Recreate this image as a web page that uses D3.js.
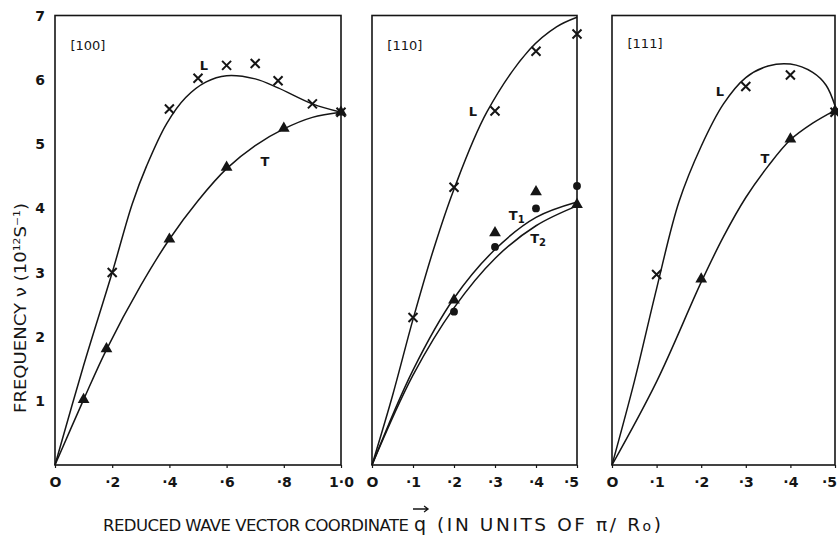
<!DOCTYPE html>
<html>
<head>
<meta charset="utf-8">
<script src="https://cdn.jsdelivr.net/npm/d3@7"></script>
<style>
  body { margin: 0; background: #fff; }
  svg { display: block; }
  text { font-family: "DejaVu Sans", sans-serif; fill: #151515; }
</style>
</head>
<body>
<svg id="chart" width="838" height="542"></svg>
<script>
// ---- Frequency axis (shared by all three panels), units 10^12 s^-1
const freqTicks = [1, 2, 3, 4, 5, 6, 7];
const freqTickLabels = ["1", "2", "3", "4", "5", "6", "7"];

// ---- [100] direction, q from 0 to 1.0
const ticks100 = [0, 0.2, 0.4, 0.6, 0.8, 1.0];
const tickLabels100 = ["O", "·2", "·4", "·6", "·8", "1·0"];
const lineL100Q = [0, 0.1, 0.2, 0.27, 0.32, 0.39, 0.457, 0.527, 0.6, 0.7, 0.78, 0.9, 1.0];
const lineL100V = [0, 1.55, 3.0, 4.07, 4.66, 5.32, 5.73, 5.97, 6.07, 6.02, 5.88, 5.63, 5.5];
const lineT100Q = [0, 0.1, 0.18, 0.3, 0.4, 0.5, 0.6, 0.7, 0.8, 0.9, 1.0];
const lineT100V = [0, 1.02, 1.8, 2.8, 3.52, 4.12, 4.62, 4.98, 5.24, 5.42, 5.5];
const obsL100Q = [0.2, 0.4, 0.5, 0.6, 0.7, 0.78, 0.9, 1.0];
const obsL100V = [3.0, 5.55, 6.03, 6.23, 6.26, 5.99, 5.63, 5.5];
const obsT100Q = [0.1, 0.18, 0.4, 0.6, 0.8, 1.0];
const obsT100V = [1.02, 1.81, 3.52, 4.64, 5.25, 5.5];

// ---- [110] direction, q from 0 to 0.5
const ticks110 = [0, 0.1, 0.2, 0.3, 0.4, 0.5];
const tickLabels110 = ["O", "·1", "·2", "·3", "·4", "·5"];
const lineL110Q = [0, 0.05, 0.1, 0.15, 0.2, 0.28, 0.385, 0.45, 0.5];
const lineL110V = [0, 1.08, 2.27, 3.36, 4.3, 5.5, 6.48, 6.83, 6.98];
const lineT1110Q = [0, 0.1, 0.2, 0.3, 0.4, 0.5];
const lineT1110V = [0, 1.48, 2.6, 3.36, 3.86, 4.1];
const lineT2110Q = [0, 0.1, 0.2, 0.3, 0.4, 0.5];
const lineT2110V = [0, 1.4, 2.45, 3.22, 3.73, 4.04];
const obsL110Q = [0.1, 0.2, 0.3, 0.4, 0.5];
const obsL110V = [2.3, 4.33, 5.52, 6.45, 6.72];
const obsT1110Q = [0.2, 0.3, 0.4, 0.5];
const obsT1110V = [2.57, 3.62, 4.26, 4.06];
const obsT2110Q = [0.2, 0.3, 0.4, 0.5];
const obsT2110V = [2.39, 3.4, 4.0, 4.35];

// ---- [111] direction, q from 0 to 0.5
const ticks111 = [0, 0.1, 0.2, 0.3, 0.4, 0.5];
const tickLabels111 = ["O", "·1", "·2", "·3", "·4", "·5"];
const lineL111Q = [0, 0.05, 0.1, 0.15, 0.2, 0.25, 0.3, 0.35, 0.4, 0.45, 0.48, 0.5];
const lineL111V = [0, 1.3, 2.75, 4.1, 4.97, 5.63, 6.04, 6.22, 6.25, 6.12, 5.92, 5.6];
const lineT111Q = [0, 0.1, 0.2, 0.25, 0.3, 0.35, 0.4, 0.45, 0.5];
const lineT111V = [0, 1.3, 2.85, 3.56, 4.17, 4.66, 5.07, 5.33, 5.53];
const obsL111Q = [0.1, 0.3, 0.4, 0.5];
const obsL111V = [2.97, 5.9, 6.08, 5.5];
const obsT111Q = [0.2, 0.4, 0.5];
const obsT111V = [2.9, 5.08, 5.52];

const zip = (qs, vs) => qs.map((q, i) => ({ q, v: vs[i] }));

const panels = [
  {
    title: "[100]", titleAt: [0.115, 6.52], left: 55, right: 341, domain: [0, 1],
    ticks: ticks100, tickLabels: tickLabels100, lastShift: 0,
    lines: [zip(lineL100Q, lineL100V), zip(lineT100Q, lineT100V)],
    marks: [
      { data: zip(obsL100Q, obsL100V), shape: "cross" },
      { data: zip(obsT100Q, obsT100V), shape: "triangle" }
    ],
    names: [{ t: "L", at: [0.521, 6.22] }, { t: "T", at: [0.734, 4.72] }]
  },
  {
    title: "[110]", titleAt: [0.08, 6.52], left: 372, right: 577, domain: [0, 0.5],
    ticks: ticks110, tickLabels: tickLabels110, lastShift: -6,
    lines: [zip(lineL110Q, lineL110V), zip(lineT1110Q, lineT1110V), zip(lineT2110Q, lineT2110V)],
    marks: [
      { data: zip(obsL110Q, obsL110V), shape: "cross" },
      { data: zip(obsT1110Q, obsT1110V), shape: "triangle" },
      { data: zip(obsT2110Q, obsT2110V), shape: "dot" }
    ],
    names: [{ t: "L", at: [0.246, 5.5] }, { t: "T", sub: "1", at: [0.353, 3.87] }, { t: "T", sub: "2", at: [0.405, 3.51] }]
  },
  {
    title: "[111]", titleAt: [0.074, 6.55], left: 612, right: 835, domain: [0, 0.5],
    ticks: ticks111, tickLabels: tickLabels111, lastShift: -6,
    lines: [zip(lineL111Q, lineL111V), zip(lineT111Q, lineT111V)],
    marks: [
      { data: zip(obsL111Q, obsL111V), shape: "cross" },
      { data: zip(obsT111Q, obsT111V), shape: "triangle" }
    ],
    names: [{ t: "L", at: [0.242, 5.8] }, { t: "T", at: [0.343, 4.76] }]
  }
];

const svg = d3.select("#chart");
const frameTop = 15.5, frameBottom = 465;
const y = d3.scaleLinear().domain([0, 7]).range([frameBottom, 16]);

const crossPath = "M-4.5,-4.5L4.5,4.5M-4.5,4.5L4.5,-4.5";
const triPath = d3.symbol(d3.symbolTriangle, 60)();

panels.forEach((p, pi) => {
  const x = d3.scaleLinear().domain(p.domain).range([p.left, p.right]);
  const g = svg.append("g");

  // frame
  g.append("rect")
    .attr("x", p.left).attr("y", frameTop)
    .attr("width", p.right - p.left).attr("height", frameBottom - frameTop)
    .attr("fill", "none").attr("stroke", "#151515").attr("stroke-width", 1.6);

  // q axis ticks and labels
  const xAxis = d3.axisBottom(x).tickValues(p.ticks)
    .tickFormat((d, i) => p.tickLabels[i]).tickSize(3).tickPadding(9);
  const ax = g.append("g").attr("transform", `translate(0,${frameBottom})`).call(xAxis);
  ax.select(".domain").remove();
  ax.selectAll(".tick line").attr("stroke", "#151515").attr("stroke-width", 1.2);
  ax.selectAll(".tick text").attr("font-size", 14).attr("font-weight", "bold")
    .attr("fill", "#151515").attr("font-family", "DejaVu Sans, sans-serif")
    .attr("dx", (d, i, n) => (i === n.length - 1 ? p.lastShift : 0));

  // frequency labels on the first panel only
  if (pi === 0) {
    const yAxis = d3.axisLeft(y).tickValues(freqTicks)
      .tickFormat((d, i) => freqTickLabels[i]).tickSize(0).tickPadding(11);
    const ay = g.append("g").attr("transform", `translate(${p.left},0)`).call(yAxis);
    ay.select(".domain").remove();
    ay.selectAll(".tick text").attr("font-size", 14).attr("font-weight", "bold")
      .attr("text-anchor", "middle").attr("x", -15).attr("fill", "#151515")
      .attr("font-family", "DejaVu Sans, sans-serif");
  }

  // dispersion curves
  const line = d3.line().x(d => x(d.q)).y(d => y(d.v)).curve(d3.curveCatmullRom.alpha(0.5));
  p.lines.forEach(pts => {
    g.append("path").attr("d", line(pts))
      .attr("fill", "none").attr("stroke", "#151515").attr("stroke-width", 1.5);
  });

  // measured points
  p.marks.forEach(m => {
    const sel = g.selectAll(null).data(m.data).enter().append("path")
      .attr("transform", d => `translate(${x(d.q)},${y(d.v)})`);
    if (m.shape === "cross") {
      sel.attr("d", crossPath).attr("fill", "none").attr("stroke", "#151515").attr("stroke-width", 2);
    } else if (m.shape === "triangle") {
      sel.attr("d", triPath).attr("fill", "#151515");
    } else {
      sel.attr("d", d3.symbol(d3.symbolCircle, 48)()).attr("fill", "#151515");
    }
  });

  // panel direction and branch names
  g.append("text").attr("x", x(p.titleAt[0])).attr("y", y(p.titleAt[1]))
    .attr("text-anchor", "middle").attr("dominant-baseline", "middle")
    .attr("font-size", 13).text(p.title);
  p.names.forEach(n => {
    const t = g.append("text").attr("x", x(n.at[0])).attr("y", y(n.at[1]))
      .attr("text-anchor", "middle").attr("dominant-baseline", "middle")
      .attr("font-size", 13).attr("font-weight", "bold").text(n.t);
    if (n.sub) t.append("tspan").attr("font-size", 10).attr("dy", 3).text(n.sub);
  });
});

// frequency axis title
const yt = svg.append("text")
  .attr("transform", "translate(26,308) rotate(-90)")
  .attr("text-anchor", "middle").attr("font-size", 15)
  .attr("textLength", 210).attr("lengthAdjust", "spacingAndGlyphs");
yt.append("tspan").text("FREQUENCY ν (10");
yt.append("tspan").attr("font-size", 9).attr("dy", -6).text("12");
yt.append("tspan").attr("dy", 6).text("S");
yt.append("tspan").attr("font-size", 9).attr("dy", -6).text("−1");
yt.append("tspan").attr("dy", 6).text(")");

// wave vector axis title: one text run in three placed pieces,
// with the vector arrow drawn over the q
const leadText = "REDUCED WAVE VECTOR COORDINATE";
const tailText = ["(IN UNITS OF π/ R", "o", ")"];
const xt = svg.append("text").attr("y", 531).attr("font-size", 16.5);
const lead = xt.append("tspan").attr("x", 103).text(leadText);
xt.append("tspan").attr("x", 414).attr("font-size", 19).text("q");
const tail = [
  xt.append("tspan").attr("x", 437).attr("font-size", 18.5).text(tailText[0]),
  xt.append("tspan").attr("font-size", 14).text(tailText[1]),
  xt.append("tspan").attr("font-size", 18.5).text(tailText[2])
];

const node = xt.node();
const tailLen = tailText.join("").length;
const tailIndex = leadText.length + 1;
const leadSpacing = (306 - node.getSubStringLength(0, leadText.length)) / (leadText.length - 1);
lead.attr("letter-spacing", leadSpacing);
const tailSpacing = (224 - node.getSubStringLength(tailIndex, tailLen)) / (tailLen - 1);
tail.forEach(t => t.attr("letter-spacing", tailSpacing));

const qIndex = leadText.length;
const qStart = node.getStartPositionOfChar(qIndex);
const qEnd = node.getEndPositionOfChar(qIndex);
const ax0 = qStart.x - 1, ax1 = qEnd.x + 2, ay0 = 509;
svg.append("path")
  .attr("d", `M${ax0},${ay0}L${ax1},${ay0}M${ax1 - 4},${ay0 - 3}L${ax1},${ay0}L${ax1 - 4},${ay0 + 3}`)
  .attr("fill", "none").attr("stroke", "#151515").attr("stroke-width", 1.3);
</script>
</body>
</html>
